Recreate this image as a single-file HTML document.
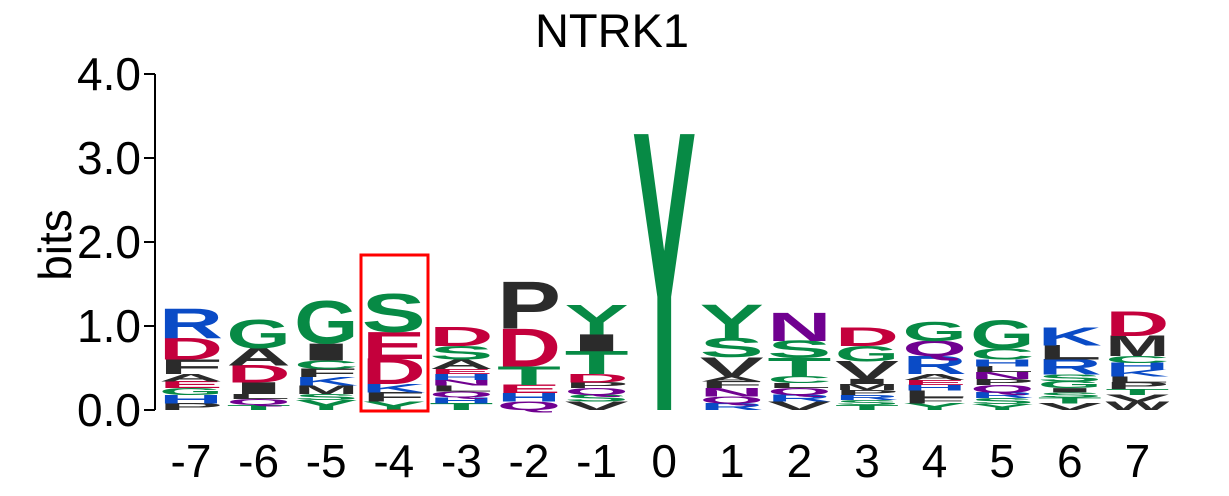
<!DOCTYPE html>
<html><head><meta charset="utf-8"><style>
html,body{margin:0;padding:0;background:#fff;}
svg{display:block;font-family:"Liberation Sans",sans-serif;}
</style></head><body>
<svg width="1229" height="496" viewBox="0 0 1229 496">
<text x="612" y="47" font-size="47" text-anchor="middle" fill="#000">NTRK1</text>
<g id="axis"></g>
<text transform="translate(71,245) rotate(-90)" font-size="46" text-anchor="middle">bits</text>
<g id="logo"></g>
<g id="xlabels"></g>
<rect x="361" y="255" width="67" height="156" fill="none" stroke="#ff0000" stroke-width="3"/>
</svg>
<script>
const positions = [-7,-6,-5,-4,-3,-2,-1,0,1,2,3,4,5,6,7];
const yTicks = [0,1,2,3,4];
const yTickLabels = ["0.0","1.0","2.0","3.0","4.0"];
// stacks listed bottom to top: [letter, bits]
const stacks = [
 [["P",.08],["H",.1],["G",.08],["E",.08],["A",.09],["F",.17],["D",.26],["R",.35]],
 [["T",.06],["Q",.07],["L",.06],["I",.14],["D",.2],["A",.21],["G",.33]],
 [["Y",.12],["S",.07],["M",.1],["K",.1],["F",.1],["C",.1],["I",.2],["G",.5]],
 [["Y",.1],["F",.11],["K",.1],["D",.3],["E",.32],["S",.45]],
 [["T",.08],["H",.07],["Q",.07],["L",.07],["N",.07],["H",.07],["E",.06],["A",.11],["S",.16],["D",.23]],
 [["Q",.1],["H",.1],["E",.1],["T",.22],["D",.45],["P",.55]],
 [["V",.1],["S",.08],["Q",.08],["P",.07],["D",.1],["T",.27],["I",.2],["Y",.35]],
 [["Y",3.27]],
 [["R",.08],["Q",.08],["N",.1],["F",.08],["A",.06],["V",.23],["S",.23],["Y",.39]],
 [["V",.1],["R",.08],["Q",.08],["L",.06],["C",.08],["T",.22],["S",.2],["N",.33]],
 [["T",.06],["S",.06],["R",.06],["P",.06],["M",.07],["I",.06],["V",.21],["G",.18],["D",.22]],
 [["Y",.08],["F",.07],["L",.08],["H",.07],["E",.06],["A",.07],["R",.21],["Q",.18],["G",.23]],
 [["Y",.07],["S",.07],["R",.07],["Q",.09],["P",.07],["N",.08],["L",.07],["H",.08],["C",.13],["G",.33]],
 [["V",.08],["T",.07],["S",.06],["I",.05],["G",.08],["S",.08],["R",.18],["L",.17],["K",.21]],
 [["W",.1],["V",.08],["T",.07],["P",.08],["L",.07],["K",.08],["H",.08],["C",.08],["M",.24],["D",.29]]
];
const NS="http://www.w3.org/2000/svg";
const y0=410, pxPerBit=84, x0=191, dx=67.6, colW=64, capH=68.5;
const yScale=v=>y0-v*pxPerBit;
const xScale=i=>x0+i*dx;
function color(l){
 if("GSTYC".includes(l))return "#078a45";
 if("RKH".includes(l))return "#0a4bc6";
 if("DE".includes(l))return "#c4003c";
 if("NQ".includes(l))return "#700090";
 return "#2b2b2b";
}
const axis=document.getElementById('axis');
function mk(tag,attrs,parent){const e=document.createElementNS(NS,tag);for(const k in attrs)e.setAttribute(k,attrs[k]);parent.appendChild(e);return e;}
const al=mk('line',{x1:155,x2:155,y1:yScale(4),y2:yScale(0),stroke:'#000','stroke-width':2},axis);


yTicks.forEach((t,i)=>{
 const tk=mk('line',{x1:144,x2:155,y1:yScale(t),y2:yScale(t),stroke:'#000','stroke-width':2},axis);
 
 
 const tx=mk('text',{x:141,y:yScale(t)+16,'font-size':46,'text-anchor':'end'},axis);
 tx.textContent=yTickLabels[i];
 
 
});
const logo=document.getElementById('logo');
stacks.forEach((st,i)=>{
 let cum=0;
 const g=mk('g',{},logo);
 
 
 st.forEach(([l,h])=>{
  const yb=yScale(cum), hp=h*pxPerBit;
  cum+=h;
  const t=mk('text',{transform:`translate(${xScale(i)-colW/2},${yb}) scale(1,${hp/capH})`,'font-size':100,'font-weight':'bold',fill:color(l),textLength:colW,lengthAdjust:'spacingAndGlyphs'},g);
  t.textContent=l;
  
  
 });
});
const xl=document.getElementById('xlabels');
positions.forEach((p,i)=>{
 const t=mk('text',{x:xScale(i),y:477,'font-size':46,'text-anchor':'middle'},xl);
 t.textContent=String(p);
 
 
});
</script>
</body></html>
